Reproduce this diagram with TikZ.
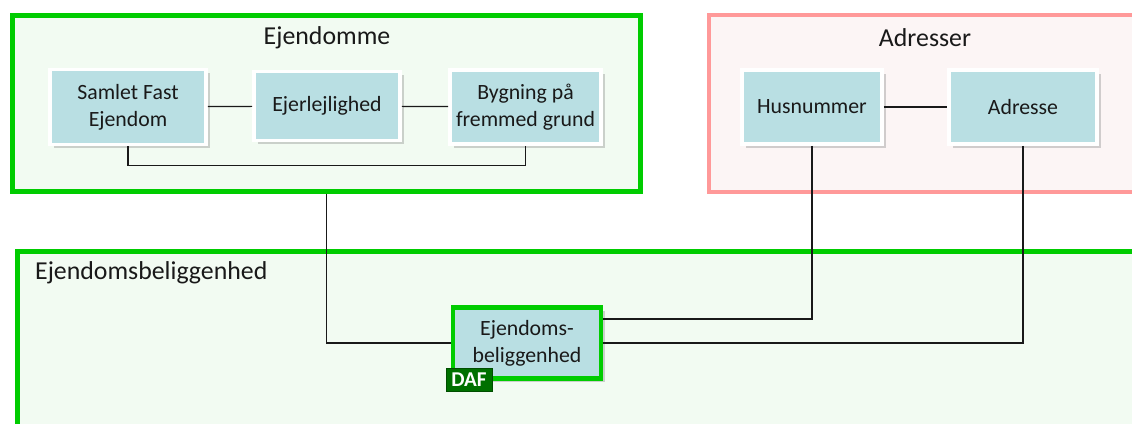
\documentclass[tikz,border=0pt]{standalone}
\usepackage{fontspec}
\setmainfont{Carlito}
\usepackage{tikz}
\usetikzlibrary{positioning,shadows,calc}
\usepackage{xcolor}
\definecolor{dagreen}{RGB}{0,204,0}
\definecolor{dagreenbg}{RGB}{242,251,242}
\definecolor{dared}{RGB}{255,153,153}
\definecolor{daredbg}{RGB}{252,245,245}
\definecolor{dabox}{RGB}{185,223,227}
\definecolor{dafgreen}{RGB}{0,112,0}
\definecolor{datext}{RGB}{25,25,25}
\tikzstyle{entity} = [draw=white, line width=2.2pt, fill=dabox, align=center, text=datext,
  font=\fontsize{12.4}{15.5}\selectfont,
  drop shadow={shadow xshift=2pt, shadow yshift=-2pt, opacity=0.35}]
\tikzstyle{frame} = [line width=2.8pt, inner sep=0pt]
\tikzstyle{title} = [text=datext, font=\fontsize{14.7}{17}\selectfont]
\tikzstyle{link} = [line width=0.7pt, color=datext]

\begin{document}
\begin{tikzpicture}[x=0.02cm, y=-0.02cm]
\useasboundingbox (0,0) rectangle (1132,423);
\clip (0,0) rectangle (1132,423);
% Frames
\node[frame, draw=dagreen, fill=dagreenbg, minimum width=12.56cm, minimum height=3.52cm] (ejendomme) at (326.5,103.5) {};
\node[frame, draw=dared, fill=daredbg, line width=2.3pt, minimum width=8.62cm, minimum height=3.54cm] (adresser) at (924.5,103.5) {};
\node[frame, draw=dagreen, fill=dagreenbg, minimum width=22.45cm, minimum height=3.57cm] (beliggenhed) at (578.75,340.75) {};

% Titles
\node[title] (t-ejendomme) at (327,38) {Ejendomme};
\node[title] (t-adresser) at (925,38) {Adresser};
\node[title, anchor=west] (t-beliggenhed) at (29,273) {Ejendomsbeliggenhed};

% Ejendomme
\node[entity, minimum width=3.12cm, minimum height=1.5cm] (samlet) at (128,107) {Samlet Fast\\Ejendom};
\node[entity, minimum width=2.92cm, minimum height=1.38cm] (ejerlejlighed) at (327,106) {Ejerlejlighed};
\node[entity, minimum width=3.02cm, minimum height=1.48cm] (bygning) at (525.5,107) {Bygning på\\fremmed grund};

% Adresser
\node[entity, minimum width=2.8cm, minimum height=1.48cm] (husnummer) at (812,107) {Husnummer};
\node[entity, minimum width=2.96cm, minimum height=1.48cm] (adresse) at (1023,107) {Adresse};

% Ejendomsbeliggenhed
\node[entity, draw=dagreen, line width=2.8pt, minimum width=2.96cm, minimum height=1.42cm] (belig) at (527,343) {Ejendoms-\\beliggenhed};
\node[fill=dafgreen, draw=dafgreen!70!black, text=white, inner sep=0pt, minimum width=0.92cm, minimum height=0.46cm,
  font=\bfseries\fontsize{12}{13}\selectfont] (daf) at (469,379.5) {DAF};

% Connectors
\draw[link] (samlet) -- (ejerlejlighed);
\draw[link] (ejerlejlighed) -- (bygning);
\draw[link] (husnummer) -- (adresse);
\draw[link] (samlet.south) -- ++(0,19) -| (bygning.south);
\draw[link] (ejendomme.south) |- (belig.west);
\draw[link] (husnummer.south) |- ($(belig.east)+(0,-24)$);
\draw[link] (adresse.south) |- (belig.east);
\end{tikzpicture}
\end{document}
